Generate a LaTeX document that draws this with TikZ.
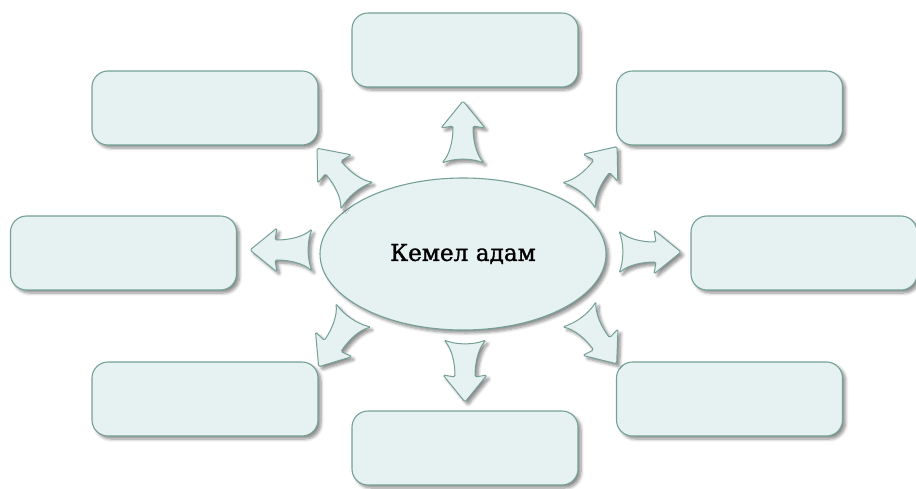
\documentclass[tikz,border=0pt]{standalone}
\usepackage{fontspec}
\setmainfont{DejaVu Serif}
\newfontfamily\centrefont{DejaVu Serif}[FakeBold=1.3]
\usetikzlibrary{shadows.blur,shapes.geometric}
\definecolor{boxfill}{HTML}{E6F1F1}
\definecolor{boxline}{HTML}{74A096}
\tikzset{
  myshadow/.style={blur shadow={shadow xshift=3pt,shadow yshift=-3pt,shadow blur steps=6,shadow opacity=45,shadow blur radius=3pt}},
  emptybox/.style={draw=boxline,line width=1.1pt,fill=boxfill,rounded corners=16pt,
    minimum width=226pt,minimum height=74pt,myshadow},
  centre/.style={ellipse,draw=boxline,line width=1.1pt,fill=boxfill,
    minimum width=286pt,minimum height=152pt,myshadow,font=\centrefont\fontsize{23.2}{26}\selectfont},
  fatarrow/.pic={
    \path[draw=boxline,line width=1pt,fill=boxfill,rounded corners=1.5pt,myshadow]
      (31,0) -- (4,22) -- (6,10) .. controls (-8,10) and (-22,13) .. (-31,21)
      .. controls (-26,8) and (-26,-8) .. (-31,-21)
      .. controls (-22,-13) and (-8,-10) .. (6,-10) -- (4,-22) -- cycle;
  }
}
\begin{document}
\begin{tikzpicture}[x=1pt,y=-1pt]
\useasboundingbox (0,0) rectangle (916,488);
\node[emptybox] (top) at (465,50) {};
\node[emptybox] (ul) at (205,108) {};
\node[emptybox] (ur) at (729.5,108) {};
\node[emptybox] (l) at (123.5,253) {};
\node[emptybox] (r) at (804,253) {};
\node[emptybox] (ll) at (205,399) {};
\node[emptybox] (lr) at (729.5,399) {};
\node[emptybox] (bot) at (465,448) {};
\node[centre] (c) at (463,254) {Кемел адам};
\coordinate (a1) at (463,132);
\coordinate (a2) at (465,371);
\coordinate (a3) at (281,250);
\coordinate (a4) at (650,252);
\coordinate (a5) at (337,172);
\coordinate (a6) at (598,171);
\coordinate (a7) at (336,341);
\coordinate (a8) at (598,339);
\pic[rotate=90] at (a1) {fatarrow};
\pic[rotate=-90] at (a2) {fatarrow};
\pic[rotate=180] at (a3) {fatarrow};
\pic[rotate=0] at (a4) {fatarrow};
\pic[rotate=130] at (a5) {fatarrow};
\pic[rotate=52] at (a6) {fatarrow};
\pic[rotate=236] at (a7) {fatarrow};
\pic[rotate=-53] at (a8) {fatarrow};
\end{tikzpicture}
\end{document}
